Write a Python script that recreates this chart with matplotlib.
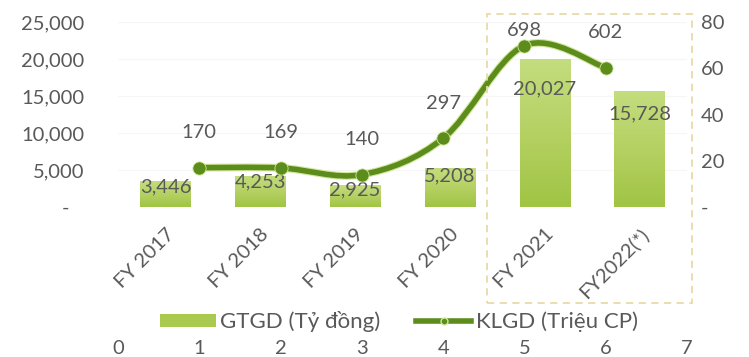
import numpy as np
import matplotlib
matplotlib.use("Agg")
import matplotlib.pyplot as plt
from matplotlib.patches import Rectangle, PathPatch, Patch
from matplotlib.path import Path
from matplotlib.lines import Line2D
from matplotlib.ticker import FuncFormatter

plt.rcParams['font.family'] = ['Lato', 'DejaVu Sans']

categories = ["FY 2017", "FY 2018", "FY 2019", "FY 2020", "FY 2021", "FY2022(*)"]
gtgd = [3446, 4253, 2925, 5208, 20027, 15728]          # Tỷ đồng
klgd = [170, 169, 140, 297, 698, 602]                  # Triệu CP
klgd_x = [1, 2, 3, 4, 5, 6]
left_ticks = [0, 5000, 10000, 15000, 20000, 25000]
right_ticks = [0, 200, 400, 600, 800]
top_x_ticks = [0, 1, 2, 3, 4, 5, 6, 7]

TEXT = "#595959"
LINE = "#5b8c1c"
FS = 14.5

W, H = 749, 357
fig = plt.figure(figsize=(W / 100, H / 100), dpi=100)
pos = [118 / W, 1 - 207 / H, (687 - 118) / W, (207 - 22) / H]
ax = fig.add_axes(pos)

# --- bars (primary axes) with a soft vertical gradient ---
x = np.arange(len(categories))
bars = ax.bar(x, gtgd, width=0.53, color="#a9c94f", zorder=2)
grad = np.linspace(0, 1, 256).reshape(-1, 1)
cmap = matplotlib.colors.LinearSegmentedColormap.from_list(
    "g", ["#a0c444", "#b5d163", "#c4dd7f"])
for b in bars:
    im = ax.imshow(grad, cmap=cmap, aspect="auto", origin="lower",
                   extent=[b.get_x(), b.get_x() + b.get_width(), 0, b.get_height()],
                   zorder=2)
    im.set_clip_path(b)
ax.set_xlim(-0.5, len(categories) - 0.5)
ax.set_ylim(0, 25000)
ax.set_yticks(left_ticks)
ax.yaxis.set_major_formatter(FuncFormatter(lambda v, p: "-   " if v == 0 else f"{v:,.0f}"))
ax.tick_params(axis="y", length=0, pad=24, labelsize=FS, labelcolor=TEXT)
ax.set_xticks(x)
ax.set_xticklabels(categories, rotation=45, ha="right", rotation_mode="anchor")
ax.tick_params(axis="x", length=0, pad=13, labelsize=FS, labelcolor=TEXT)
for s in ax.spines.values():
    s.set_visible(False)
ax.grid(axis="y", color="#f6f6f6", lw=0.8, zorder=0)
ax.set_axisbelow(True)

for xi, v in zip(x, gtgd):
    ax.text(xi, v * 0.8, f"{v:,}", ha="center", va="center",
            fontsize=FS, color=TEXT, zorder=5)

# --- line (secondary axes: x 0..7, y 0..800) ---
ax2 = fig.add_axes(pos, frameon=False)
ax2.set_xlim(0, 7)
ax2.set_ylim(0, 800)
ax2.patch.set_visible(False)
ax2.yaxis.tick_right()
ax2.set_yticks(right_ticks)
ax2.yaxis.set_major_formatter(FuncFormatter(lambda v, p: "-" if v == 0 else f"{v / 10:.0f}"))
ax2.tick_params(axis="y", length=0, pad=10, labelsize=FS, labelcolor=TEXT)
ax2.set_xticks(top_x_ticks)
ax2.spines["bottom"].set_position(("outward", 94))
ax2.tick_params(axis="x", length=0, pad=2, labelsize=FS, labelcolor=TEXT)
for s in ax2.spines.values():
    s.set_visible(False)

# smoothed path through the points (Catmull-Rom style Bezier segments)
P = np.column_stack([klgd_x, klgd]).astype(float)
n = len(P)
verts = [tuple(P[0])]
codes = [Path.MOVETO]
for i in range(n - 1):
    p0 = P[i - 1] if i > 0 else P[i]
    p1, p2 = P[i], P[i + 1]
    p3 = P[i + 2] if i + 2 < n else P[i + 1]
    c1 = p1 + (p2 - p0) / 6
    c2 = p2 - (p3 - p1) / 6
    verts += [tuple(c1), tuple(c2), tuple(p2)]
    codes += [Path.CURVE4] * 3
ax2.add_patch(PathPatch(Path(verts, codes), fill=False, edgecolor="#d2e69c",
                        lw=5.6, capstyle="round", zorder=3))
ax2.add_patch(PathPatch(Path(verts, codes), fill=False, edgecolor=LINE,
                        lw=4.0, capstyle="round", zorder=4))
ax2.plot(klgd_x, klgd, "o", ms=9.5, color=LINE, mec="#d2e69c", mew=0.6, zorder=5)

for xi, v in zip(klgd_x, klgd):
    ax2.text(xi, min(v + 152, 765), f"{v}", ha="center", va="center",
             fontsize=FS, color=TEXT, zorder=6)

# dashed frame around the last two periods
fig.patches.append(Rectangle((487 / W, 1 - 303 / H), 205 / W, 289 / H,
                             transform=fig.transFigure, fill=False,
                             edgecolor="#e8dba8", lw=1.3, ls=(0, (4, 3))))

handles = [Patch(facecolor="#a9c94f", edgecolor="none"),
           Line2D([0], [0], color=LINE, lw=4, marker="o", ms=5, mec="#d2e69c")]
fig.legend(handles, ["GTGD (Tỷ đồng)", "KLGD (Triệu CP)"], loc="center",
           bbox_to_anchor=(399 / W, 1 - 322 / H), ncol=2, frameon=False,
           fontsize=16, labelcolor=TEXT, handlelength=2.5, handleheight=0.5,
           handletextpad=0.2, columnspacing=1.6)

fig.savefig("out.png", dpi=100)
